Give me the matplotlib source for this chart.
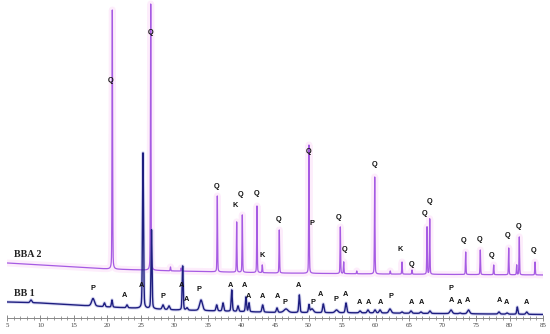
import numpy as np
import matplotlib
matplotlib.use('Agg')
import matplotlib.pyplot as plt

# 2-theta range of the scan
two_theta = np.arange(5, 85.001, 0.01)

# BBA 2 (upper trace): baseline anchors and peaks (position, top of peak)
bba2_base_x = [5, 20, 30, 45, 60, 85]
bba2_base_y = [55, 49, 47, 45, 44, 43]
bba2_pos = [20.72, 26.45, 36.39, 39.28, 40.12, 42.31, 43.10, 45.64, 50.07, 54.75,
            55.25, 59.88, 63.96, 65.45, 67.69, 68.09, 73.46, 75.64, 77.64, 79.88,
            81.07, 81.46, 83.81, 29.4, 31.0, 57.2, 62.2]
bba2_top = [308, 314, 122, 96, 103, 112, 53, 88, 173, 91,
            56, 141, 56, 48, 91, 99, 66, 68, 53, 70,
            53, 81, 56, 51, 50, 47, 47]

# BB 1 (lower trace)
bb1_base_x = [5, 10, 20, 30, 45, 60, 85]
bb1_base_y = [16, 15, 11, 8, 5.5, 5, 3.5]
bb1_pos = [8.58, 17.84, 19.55, 20.67, 22.91, 25.30, 26.57, 28.28, 29.18, 31.22,
           31.87, 33.96, 36.30, 37.24, 38.54, 39.48, 40.67, 41.12, 43.16, 45.30,
           46.64, 48.63, 50.07, 50.52, 52.21, 54.18, 55.60, 57.69, 58.88, 59.93,
           60.67, 62.16, 63.96, 65.30, 66.79, 68.13, 71.27, 72.61, 73.88, 78.43,
           79.63, 81.16, 82.57]
bb1_top = [18, 19.5, 15, 18, 13, 165, 88, 13, 12, 52,
           10, 18, 13, 15, 28, 12, 21, 15, 13, 10,
           9, 23, 13, 9, 14, 8, 15, 7, 8, 8,
           8, 9, 6, 7, 6, 7, 8, 5, 8, 6,
           5, 11, 6]
bb1_width = [0.3, 0.5, 0.25, 0.2, 0.25, 0.18, 0.18, 0.3, 0.3, 0.18,
             0.3, 0.5, 0.25, 0.25, 0.2, 0.25, 0.2, 0.2, 0.25, 0.25,
             0.7, 0.2, 0.2, 0.5, 0.25, 0.5, 0.25, 0.3, 0.3, 0.3,
             0.3, 0.4, 0.3, 0.3, 0.3, 0.3, 0.4, 0.3, 0.4, 0.3,
             0.3, 0.2, 0.3]

# phase labels: text, 2-theta, height
bba2_labels = [('Q', 20.4, 237), ('Q', 26.45, 285), ('Q', 36.35, 131), ('K', 39.0, 112),
               ('Q', 39.9, 123), ('Q', 42.3, 124), ('K', 43.05, 62), ('Q', 45.6, 98),
               ('Q', 50.07, 166), ('P', 50.5, 94), ('Q', 54.55, 100), ('Q', 55.45, 68),
               ('Q', 59.93, 153), ('K', 63.65, 68), ('Q', 65.4, 53), ('Q', 67.25, 104),
               ('Q', 68.0, 116), ('Q', 73.2, 77), ('Q', 75.6, 78), ('Q', 77.25, 62),
               ('Q', 79.78, 82), ('Q', 81.42, 91), ('Q', 83.66, 67)]
bb1_labels = [('P', 17.8, 29), ('A', 22.5, 22), ('A', 25.1, 32), ('P', 28.3, 21),
              ('A', 31.0, 32), ('A', 31.8, 18), ('P', 33.7, 28), ('A', 38.3, 32),
              ('A', 40.5, 32), ('A', 41.1, 21), ('A', 43.1, 21), ('A', 45.3, 21),
              ('P', 46.5, 15), ('A', 48.5, 32), ('P', 50.6, 15), ('A', 51.8, 23),
              ('P', 54.1, 18), ('A', 55.5, 23), ('A', 57.6, 15), ('A', 58.9, 15),
              ('A', 60.7, 15), ('P', 62.3, 21), ('A', 65.4, 15), ('A', 66.8, 15),
              ('P', 71.3, 29), ('A', 71.3, 17), ('A', 72.6, 15), ('A', 73.8, 17),
              ('A', 78.5, 17), ('A', 79.6, 15), ('A', 82.6, 15)]


def pattern(base_x, base_y, pos, top, width):
    # baseline plus pseudo-Voigt peaks reaching the read-off tops
    base = np.interp(two_theta, base_x, base_y)
    y = base.copy()
    for p, t, w in zip(pos, top, width):
        h = max(t - np.interp(p, base_x, base_y), 0)
        g = np.exp(-4 * np.log(2) * ((two_theta - p) / w) ** 2)
        l = 1 / (1 + 4 * ((two_theta - p) / w) ** 2)
        y += h * (0.7 * g + 0.3 * l)
    return y


bba2 = pattern(bba2_base_x, bba2_base_y, bba2_pos, bba2_top, [0.1] * len(bba2_pos))
bb1 = pattern(bb1_base_x, bb1_base_y, bb1_pos, bb1_top, bb1_width)

fig = plt.figure(figsize=(5.5, 3.34), dpi=100)
ax = fig.add_axes([0.0127, 0.048, 0.9746, 0.952])

ax.plot(two_theta, bba2, color='#fdedfb', lw=5, solid_capstyle='butt', zorder=1)
ax.plot(two_theta, bba2, color='#a65be3', lw=0.9, zorder=3)
ax.plot(two_theta, bb1, color='#dadaf3', lw=2.4, zorder=2)
ax.plot(two_theta, bb1, color='#1e1e80', lw=1.0, zorder=4)

for txt, x, y in bba2_labels + bb1_labels:
    ax.text(x, y, txt, fontsize=5.3, fontweight='bold', family='Liberation Sans',
            ha='center', va='center', color='#111111', zorder=5)

ax.text(6.1, 63, 'BBA 2', fontsize=7.2, fontweight='bold', family='Liberation Serif',
        ha='left', va='center', color='#222222')
ax.text(6.1, 24.5, 'BB 1', fontsize=7.2, fontweight='bold', family='Liberation Serif',
        ha='left', va='center', color='#222222')

ax.set_xlim(5, 85)
ax.set_ylim(0, 318)
ax.set_xticks(range(5, 86, 5))
ax.set_xticks(range(5, 86), minor=True)
ax.tick_params(axis='x', which='major', direction='inout', length=4, width=0.6,
               color='#777777', labelsize=5, labelcolor='#444444', pad=1.5)
ax.tick_params(axis='x', which='minor', direction='inout', length=2.5, width=0.5,
               color='#777777')
for lab in ax.get_xticklabels():
    lab.set_family('Liberation Serif')
ax.set_yticks([])
for side in ['top', 'left', 'right']:
    ax.spines[side].set_visible(False)
ax.spines['bottom'].set_color('#888888')
ax.spines['bottom'].set_linewidth(0.7)

fig.savefig('out.png', dpi=100)
